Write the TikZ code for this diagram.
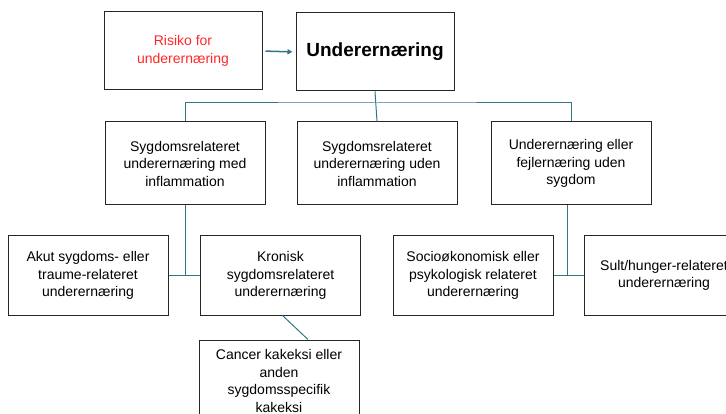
\documentclass[tikz,border=0pt]{standalone}
\usepackage{fontspec}
\setmainfont{Liberation Sans}
\usetikzlibrary{arrows.meta}
\definecolor{conn}{RGB}{49,118,132}
\definecolor{riskred}{RGB}{255,40,40}
\begin{document}
\begin{tikzpicture}[x=1pt,y=-1pt,
  box/.style={draw=black!85,line width=1pt,fill=white,align=center,
    minimum width=160pt,minimum height=80pt,inner sep=2pt,
    font=\fontsize{14}{17.5}\selectfont},
  link/.style={draw=conn,line width=1pt}]
\useasboundingbox (0,0) rectangle (726,414);
\clip (0,0) rectangle (726,414);
\node[box,minimum width=158pt,minimum height=78pt,text=riskred] (risk) at (183,51) {Risiko for\\underernæring};
\node[box,minimum width=158pt,minimum height=78pt,font=\fontsize{19}{22}\selectfont\bfseries] (main) at (375,52) {Underernæring};
\node[box,minimum height=83pt] (l2a) at (185,163.5) {Sygdomsrelateret\\underernæring med\\inflammation};
\node[box,minimum height=83pt] (l2b) at (377,163.5) {Sygdomsrelateret\\underernæring uden\\inflammation};
\node[box,minimum height=83pt] (l2c) at (571,163.5) {Underernæring eller\\fejlernæring uden\\sygdom};
\node[box,minimum height=79pt] (l3a) at (88,275.5) {Akut sygdoms- eller\\traume-relateret\\underernæring};
\node[box,minimum height=79pt] (l3b) at (280.5,275.5) {Kronisk\\sygdomsrelateret\\underernæring};
\node[box,minimum height=79pt] (l3c) at (473,275.5) {Socioøkonomisk eller\\psykologisk relateret\\underernæring};
\node[box,minimum height=79pt] (l3d) at (664,275.5) {Sult/hunger-relateret\\underernæring};
\node[box,minimum height=82pt] (l4) at (279,381) {Cancer kakeksi eller\\anden\\sygdomsspecifik\\kakeksi};
\coordinate (j) at (376,103);
\draw[link,line width=1.5pt,-{Triangle[length=5pt,width=5pt]},shorten <=3pt,shorten >=3pt] (risk.east) -- (main.west);
\draw[link] (main.south) -- (l2b.north);
\draw[link] (l2a.north) |- (j) -| (l2c.north);
\draw[link] (l2a.south) -- (l2a.south |- l3a.east);
\draw[link] (l3a.east) -- (l3b.west);
\draw[link] ([xshift=-4pt]l2c.south) -- ([xshift=-4pt]l2c.south |- l3c.east);
\draw[link] (l3c.east) -- (l3d.west);
\draw[link] ([xshift=2pt]l3b.south) -- ([xshift=29pt]l4.north);
\end{tikzpicture}
\end{document}
